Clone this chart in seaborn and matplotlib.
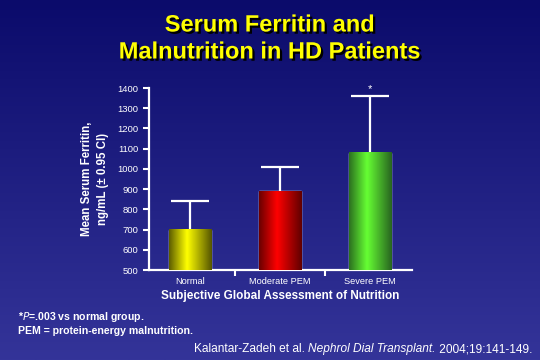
import numpy as np
import pandas as pd
import matplotlib
matplotlib.use("Agg")
import matplotlib.pyplot as plt
import matplotlib.patheffects as pe
from matplotlib.colors import LinearSegmentedColormap, to_rgb
import seaborn as sns

categories = ["Normal", "Moderate PEM", "Severe PEM"]
means = [700, 890, 1080]
upper_ci = [840, 1010, 1360]
yticks = [500, 600, 700, 800, 900, 1000, 1100, 1200, 1300, 1400]

sns.set_theme(style="white")
plt.rcParams["font.family"] = ["Liberation Sans", "DejaVu Sans"]

W, H = 540, 360
fig = plt.figure(figsize=(W / 100, H / 100), dpi=100)

# background gradient
bg = fig.add_axes([0, 0, 1, 1], zorder=-10)
bg.set_axis_off()
grad = np.linspace(0, 1, 256)[:, None]
top = np.array(to_rgb("#0b0b6b"))
bot = np.array(to_rgb("#343499"))
img = top[None, None, :] * (1 - grad[:, :, None]) + bot[None, None, :] * grad[:, :, None]
bg.imshow(img, aspect="auto", extent=[0, 1, 0, 1])
bg.set_xlim(0, 1); bg.set_ylim(0, 1)

left, right = 149 / W, 412 / W
bottom, topy = 1 - 270 / H, 1 - 88 / H
ax = fig.add_axes([left, bottom, right - left, topy - bottom])
ax.patch.set_alpha(0)

df = pd.DataFrame({"cat": categories, "val": means})
sns.barplot(data=df, x="cat", y="val", ax=ax, width=0.47, color="white",
            saturation=1, zorder=2)

profiles = [
    ("#5c5c00", "#ffff00", "#555500"),
    ("#6a0000", "#ff0000", "#600000"),
    ("#2c7020", "#66ff33", "#286420"),
]
for p, (c0, c1, c2) in zip(ax.patches, profiles):
    x, w = p.get_x(), p.get_width()
    h = p.get_height()
    cmap = LinearSegmentedColormap.from_list("g", [(0, c0), (0.42, c1), (1, c2)])
    row = cmap(np.linspace(0, 1, 200))[None, :, :3]
    ax.imshow(row, aspect="auto", extent=[x, x + w, 500, h], zorder=3,
              interpolation="bilinear")

xs = np.arange(len(categories))
ax.vlines(xs, means, upper_ci, color="white", lw=1.6, zorder=1)
ax.hlines(upper_ci, xs - 0.21, xs + 0.21, color="white", lw=1.6, zorder=1)
ax.text(2, 1372, "*", color="white", ha="center", va="bottom", fontsize=8)

ax.set_xlim(-0.456, 2.467)
ax.set_ylim(500, 1400)
ax.set_yticks(yticks)
ax.set_yticklabels([str(t) for t in yticks], color="white", fontsize=6.8)
ax.set_xticks(xs)
ax.set_xticklabels(categories, color="white", fontsize=6.7)
ax.set_xticks([0.5, 1.5], minor=True)
ax.tick_params(axis="x", which="major", length=0, pad=5)
ax.tick_params(axis="x", which="minor", length=4, width=1.5, color="white", direction="out", bottom=True)
ax.tick_params(axis="y", length=4.5, width=1.5, color="white", direction="out", left=True, pad=3)

for s in ["top", "right"]:
    ax.spines[s].set_visible(False)
for s in ["left", "bottom"]:
    ax.spines[s].set_color("white")
    ax.spines[s].set_linewidth(1.6)

ax.set_xlabel("Subjective Global Assessment of Nutrition", color="white",
              fontsize=8.5, fontweight="bold", labelpad=3)
ax.set_ylabel("Mean Serum Ferritin,\nng/mL (\u00b1 0.95 CI)", color="white",
              fontsize=8.3, fontweight="bold", labelpad=6, linespacing=1.45)

shadow = [pe.withSimplePatchShadow(offset=(1.6, -1.6), shadow_rgbFace="black", alpha=1)]
fig.text(0.5, 1 - 25 / H, "Serum Ferritin and", ha="center", va="center",
         color="#ffff00", fontsize=17, fontweight="bold", path_effects=shadow)
fig.text(0.5, 1 - 52 / H, "Malnutrition in HD Patients", ha="center", va="center",
         color="#ffff00", fontsize=17, fontweight="bold", path_effects=shadow)

fig.text(18 / W, 1 - 317 / H, r"*$\mathit{P}$=.003 vs normal group.", ha="left", va="center",
         color="white", fontsize=7.6, fontweight="bold")
fig.text(18 / W, 1 - 331 / H, "PEM = protein-energy malnutrition.", ha="left", va="center",
         color="white", fontsize=7.6, fontweight="bold")

cy = 1 - 349 / H
fs = 8.6
t1 = fig.text(0, cy, "Kalantar-Zadeh et al. ", ha="left", va="center", color="white", fontsize=fs)
t2 = fig.text(0, cy, "Nephrol Dial Transplant.", ha="left", va="center", color="white",
              fontsize=fs, style="italic")
t3 = fig.text(0, cy, " 2004;19:141-149.", ha="left", va="center", color="white", fontsize=fs)
fig.canvas.draw()
r = fig.canvas.get_renderer()
w1 = t1.get_window_extent(r).width
w2 = t2.get_window_extent(r).width
w3 = t3.get_window_extent(r).width
x0 = 532 - (w1 + w2 + w3)
t1.set_x(x0 / W)
t2.set_x((x0 + w1) / W)
t3.set_x((x0 + w1 + w2) / W)

fig.savefig("out.png", dpi=100)
